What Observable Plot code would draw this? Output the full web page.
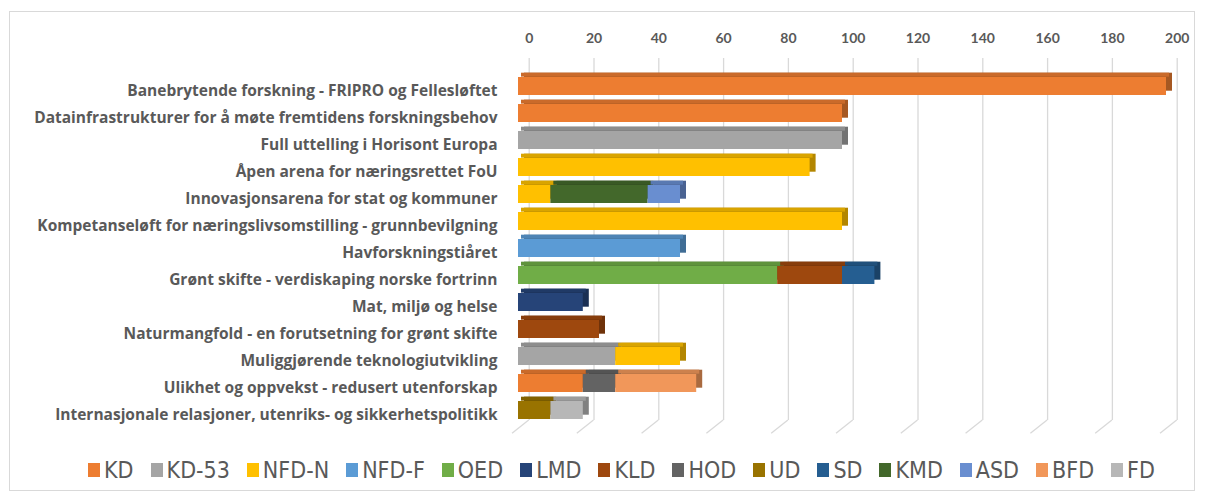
<!DOCTYPE html>
<html>
<head>
<meta charset="utf-8">
<script src="https://cdn.jsdelivr.net/npm/d3@7"></script>
<script src="https://cdn.jsdelivr.net/npm/@observablehq/plot@0.6"></script>
<style>
  html, body { margin: 0; padding: 0; background: #fff; }
  #wrap { position: relative; width: 1205px; height: 495px; overflow: hidden; }
  #frame { position: absolute; left: 9px; top: 11px; width: 1186px; height: 480px; border: 1px solid #d9d9d9; box-sizing: border-box; }
  #chart { position: absolute; left: 0; top: 0; }
  #legend { position: absolute; left: 19px; top: 457px; width: 1205px; display: flex; justify-content: center; align-items: center; gap: 0 17px;
    font-family: "Liberation Sans Narrow", "DejaVu Sans Condensed", "Liberation Sans", sans-serif; font-size: 23px; color: #595959; }
  #legend .item { display: flex; align-items: center; white-space: nowrap; }
  #legend .sw { display: inline-block; width: 12px; height: 14px; margin-right: 4px; }
</style>
</head>
<body>
<div id="wrap">
  <div id="frame"></div>
  <div id="chart"></div>
  <div id="legend"></div>
</div>
<script>
// ---- data ----
const categories = [
  "Banebrytende forskning - FRIPRO og Fellesløftet",
  "Datainfrastrukturer for å møte fremtidens forskningsbehov",
  "Full uttelling i Horisont Europa",
  "Åpen arena for næringsrettet FoU",
  "Innovasjonsarena for stat og kommuner",
  "Kompetanseløft for næringslivsomstilling - grunnbevilgning",
  "Havforskningstiåret",
  "Grønt skifte - verdiskaping norske fortrinn",
  "Mat, miljø og helse",
  "Naturmangfold - en forutsetning for grønt skifte",
  "Muliggjørende teknologiutvikling",
  "Ulikhet og oppvekst - redusert utenforskap",
  "Internasjonale relasjoner, utenriks- og sikkerhetspolitikk"
];
const ministries = ["KD","KD-53","NFD-N","NFD-F","OED","LMD","KLD","HOD","UD","SD","KMD","ASD","BFD","FD"];
const colors = ["#ED7D31","#A5A5A5","#FFC000","#5B9BD5","#70AD47","#264478","#9E480E","#636363","#997300","#255E91","#43682B","#698ED0","#F1975A","#B7B7B7"];
const xTicks = [0,20,40,60,80,100,120,140,160,180,200];

// values per ministry, one per category (in category order)
const KD     = [200,100,0,0,0,0,0,0,0,0,0,20,0];
const KD_53  = [0,0,100,0,0,0,0,0,0,0,30,0,0];
const NFD_N  = [0,0,0,90,10,100,0,0,0,0,20,0,0];
const NFD_F  = [0,0,0,0,0,0,50,0,0,0,0,0,0];
const OED    = [0,0,0,0,0,0,0,80,0,0,0,0,0];
const LMD    = [0,0,0,0,0,0,0,0,20,0,0,0,0];
const KLD    = [0,0,0,0,0,0,0,20,0,25,0,0,0];
const HOD    = [0,0,0,0,0,0,0,0,0,0,0,10,0];
const UD     = [0,0,0,0,0,0,0,0,0,0,0,0,10];
const SD     = [0,0,0,0,0,0,0,10,0,0,0,0,0];
const KMD    = [0,0,0,0,30,0,0,0,0,0,0,0,0];
const ASD    = [0,0,0,0,10,0,0,0,0,0,0,0,0];
const BFD    = [0,0,0,0,0,0,0,0,0,0,0,25,0];
const FD     = [0,0,0,0,0,0,0,0,0,0,0,0,10];
const seriesValues = [KD, KD_53, NFD_N, NFD_F, OED, LMD, KLD, HOD, UD, SD, KMD, ASD, BFD, FD];

// ---- table ----
const rows = [];
ministries.forEach((m, j) => {
  seriesValues[j].forEach((v, i) => {
    if (v > 0) rows.push({cat: categories[i], ministry: m, value: v});
  });
});
const colorOf = Object.fromEntries(ministries.map((m, j) => [m, colors[j]]));
const shade = (m, k) => d3.color(colorOf[m]).darker(k).formatHex();

const bandRange = [72, 424];
const paddingInner = 0.34;
const step = (bandRange[1] - bandRange[0]) / (categories.length - paddingInner);
const bw = step * (1 - paddingInner);
const depthX = 6, depthY = 4.3, backShift = 10.7;

const stackOpts = (extra) => Plot.stackX({x: "value", y: "cat", z: "ministry", order: ministries, ...extra});

const floorLines = (index, scales, values, dims) => {
  const g = d3.create("svg:g").attr("stroke", "#d9d9d9").attr("stroke-width", 1.3);
  const yb = dims.height - dims.marginBottom;
  for (const t of xTicks) {
    const px = scales.x(t) + backShift;
    g.append("line").attr("x1", px).attr("y1", yb).attr("x2", px - 16.7).attr("y2", yb + 13.3);
  }
  return g.node();
};

const chart = Plot.plot({
  width: 1205,
  height: 445,
  marginTop: 58,
  marginBottom: 25,
  marginLeft: 518,
  marginRight: 39,
  style: {fontFamily: "Lato, 'Open Sans', sans-serif", background: "transparent"},
  x: {domain: [0, 200], range: [518, 1166]},
  y: {domain: categories, range: bandRange, paddingInner, paddingOuter: 0},
  color: {type: "identity"},
  marks: [
    Plot.ruleX(xTicks, {x: d => d, stroke: "#d9d9d9", strokeWidth: 1.3, dx: backShift}),
    floorLines,
    Plot.axisX({anchor: "top", ticks: xTicks, tickSize: 0, tickPadding: 16, dx: backShift, fontSize: 14, fontWeight: "bold", fill: "#595959", label: null}),
    Plot.axisY({tickSize: 0, tickPadding: 21, fontSize: 15.5, fontWeight: "bold", fontFamily: "'Open Sans', sans-serif", fill: "#595959", dy: 5, label: null}),
    // side / back face
    Plot.barX(rows, stackOpts({fill: d => shade(d.ministry, 1.0), dx: depthX, dy: -depthY})),
    // top face
    Plot.barX(rows, stackOpts({fill: d => shade(d.ministry, 0.45), dx: depthX / 2, dy: -depthY, insetBottom: bw - depthY})),
    // front face
    Plot.barX(rows, stackOpts({fill: d => colorOf[d.ministry]}))
  ]
});
document.getElementById("chart").appendChild(chart);

// ---- legend ----
const legend = d3.select("#legend");
ministries.forEach((m, j) => {
  const it = legend.append("div").attr("class", "item");
  it.append("span").attr("class", "sw").style("background", colors[j]);
  it.append("span").text(m);
});
</script>
</body>
</html>
